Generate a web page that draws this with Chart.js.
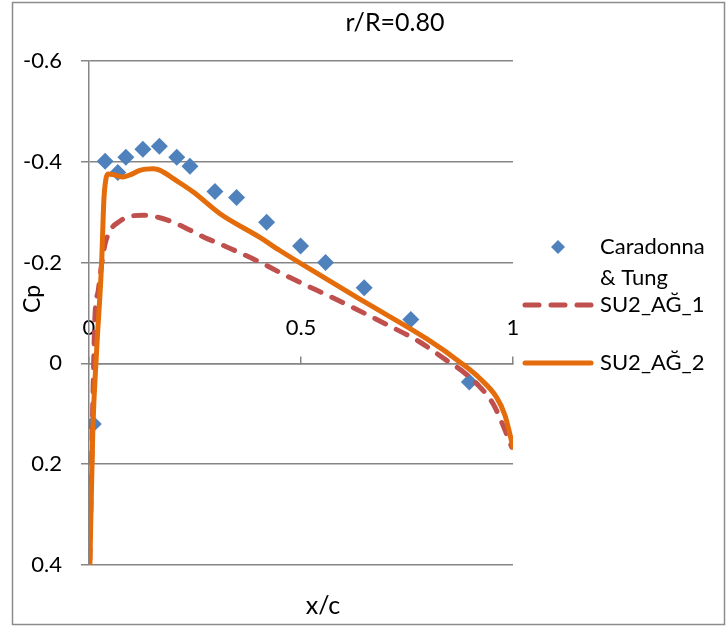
<!DOCTYPE html>
<html>
<head>
<meta charset="utf-8">
<title>r/R=0.80</title>
<script src="https://cdn.jsdelivr.net/npm/chart.js@4.4.1/dist/chart.umd.min.js"></script>
<style>
  html, body { margin: 0; padding: 0; background: #fff; }
</style>
</head>
<body>
<canvas id="cpChart" width="727" height="629"></canvas>
<script>
const seriesNames = ['Caradonna & Tung', 'SU2_AĞ_1', 'SU2_AĞ_2'];
const xTicks = [0, 0.5, 1];
const yTicks = [-0.6, -0.4, -0.2, 0, 0.2, 0.4];

// Caradonna & Tung measurements
const expX  = [0.010, 0.038, 0.068, 0.087, 0.127, 0.166, 0.207, 0.238, 0.297, 0.348, 0.419, 0.499, 0.558, 0.649, 0.759, 0.897];
const expCp = [0.120, -0.401, -0.379, -0.409, -0.425, -0.431, -0.409, -0.391, -0.341, -0.329, -0.280, -0.233, -0.200, -0.150, -0.087, 0.037];

// SU2 mesh 1
const ag1X  = [0.002, 0.010, 0.014, 0.022, 0.030, 0.038, 0.050, 0.069, 0.097, 0.128, 0.167, 0.207, 0.270, 0.325, 0.403, 0.458, 0.600, 0.700, 0.781, 0.840, 0.883, 0.920, 0.953, 0.975, 0.997];
const ag1Cp = [0.390, 0.040, -0.092, -0.145, -0.198, -0.237, -0.264, -0.280, -0.292, -0.294, -0.289, -0.277, -0.251, -0.231, -0.201, -0.177, -0.120, -0.078, -0.042, -0.008, 0.017, 0.045, 0.080, 0.120, 0.166];

// SU2 mesh 2
const ag2X  = [0.002, 0.009, 0.018, 0.030, 0.035, 0.040, 0.045, 0.060, 0.080, 0.100, 0.120, 0.152, 0.175, 0.200, 0.246, 0.309, 0.403, 0.450, 0.545, 0.650, 0.796, 0.879, 0.922, 0.961, 0.981, 1.000];
const ag2Cp = [0.400, 0.133, -0.026, -0.204, -0.323, -0.366, -0.376, -0.374, -0.370, -0.375, -0.383, -0.386, -0.380, -0.366, -0.340, -0.297, -0.250, -0.224, -0.175, -0.122, -0.049, 0.000, 0.030, 0.067, 0.103, 0.166];

const toPoints = (xs, ys) => xs.map((x, i) => ({ x: x, y: ys[i] }));

const FONT = 'Lato, "Liberation Sans", sans-serif';
const GRID = '#858585';
const BLUE = '#4F81BD';
const RED = '#C0504D';
const ORANGE = '#E46C0A';

// frame, axis captions and the legend on the right
const decorations = {
  id: 'decorations',
  beforeDraw(chart) {
    const ctx = chart.ctx;
    ctx.save();
    ctx.strokeStyle = '#8c8c8c';
    ctx.lineWidth = 1.5;
    ctx.strokeRect(12.5, 2.5, 712, 622);
    ctx.restore();
  },
  afterDraw(chart) {
    const ctx = chart.ctx;
    const a = chart.chartArea;
    ctx.save();
    ctx.fillStyle = '#000';
    ctx.textAlign = 'center';
    ctx.textBaseline = 'middle';
    ctx.font = '25px ' + FONT;
    ctx.fillText('r/R=0.80', 395, 23);
    ctx.fillText('x/c', 323, 606);
    ctx.save();
    ctx.translate(33, 299);
    ctx.rotate(-Math.PI / 2);
    ctx.font = '23px ' + FONT;
    ctx.fillText('Cp', 0, 0);
    ctx.restore();

    // legend
    const rowY = [247, 305, 363];
    const textX = a.right + 87;
    ctx.font = '22px ' + FONT;
    ctx.textAlign = 'left';
    chart.data.datasets.forEach((ds, i) => {
      const y = rowY[i];
      if (ds.showLine) {
        ctx.save();
        ctx.strokeStyle = ds.borderColor;
        ctx.lineWidth = ds.borderWidth;
        ctx.lineCap = 'round';
        if (ds.borderDash) ctx.setLineDash([14, 12]);
        ctx.beginPath();
        ctx.moveTo(a.right + 12, y);
        ctx.lineTo(a.right + 78, y);
        ctx.stroke();
        ctx.restore();
      } else {
        ctx.save();
        ctx.fillStyle = ds.backgroundColor;
        const cx = a.right + 45, r = 7;
        ctx.beginPath();
        ctx.moveTo(cx - r, y);
        ctx.lineTo(cx, y - r);
        ctx.lineTo(cx + r, y);
        ctx.lineTo(cx, y + r);
        ctx.closePath();
        ctx.fill();
        ctx.restore();
      }
      // simple word wrap
      const words = ds.label.split(' ');
      const lines = [];
      let cur = '';
      words.forEach(w => {
        const t = cur ? cur + ' ' + w : w;
        if (cur && ctx.measureText(t).width > 118) { lines.push(cur); cur = w; } else cur = t;
      });
      lines.push(cur);
      lines.forEach((ln, k) => ctx.fillText(ln, textX, y + k * 31));
    });
    ctx.restore();
  }
};

new Chart(document.getElementById('cpChart'), {
  type: 'scatter',
  data: {
    datasets: [
      {
        label: seriesNames[0],
        data: toPoints(expX, expCp),
        showLine: false,
        pointStyle: 'rectRot',
        pointRadius: 8.5,
        pointHoverRadius: 8.5,
        backgroundColor: BLUE,
        borderColor: BLUE,
        borderWidth: 0,
        order: 3
      },
      {
        label: seriesNames[1],
        data: toPoints(ag1X, ag1Cp),
        showLine: true,
        pointRadius: 0,
        borderColor: RED,
        borderWidth: 5,
        borderDash: [12, 12],
        borderCapStyle: 'round',
        borderJoinStyle: 'round',
        cubicInterpolationMode: 'monotone',
        order: 2
      },
      {
        label: seriesNames[2],
        data: toPoints(ag2X, ag2Cp),
        showLine: true,
        pointRadius: 0,
        borderColor: ORANGE,
        borderWidth: 5,
        borderCapStyle: 'round',
        borderJoinStyle: 'round',
        cubicInterpolationMode: 'monotone',
        order: 1
      }
    ]
  },
  options: {
    responsive: false,
    animation: false,
    layout: { padding: { left: 0, top: 61, right: 214, bottom: 64 } },
    plugins: {
      legend: { display: false },
      tooltip: { enabled: false }
    },
    scales: {
      x: {
        type: 'linear',
        min: 0,
        max: 1,
        position: { y: 0 },
        afterBuildTicks: s => { s.ticks = xTicks.map(v => ({ value: v })); },
        grid: { drawOnChartArea: false, drawTicks: true, tickLength: -8, color: GRID, lineWidth: 1.5 },
        border: { display: true, color: GRID, width: 1.5 },
        ticks: {
          padding: -41,
          color: '#000',
          autoSkip: false,
          maxRotation: 0,
          font: { family: FONT, size: 22 },
          callback: v => String(v)
        }
      },
      y: {
        type: 'linear',
        reverse: true,
        min: -0.6,
        max: 0.4,
        afterBuildTicks: s => { s.ticks = yTicks.map(v => ({ value: v })); },
        afterFit: s => { s.width = 89; },
        grid: { color: GRID, lineWidth: 1.5, tickLength: 8 },
        border: { display: true, color: GRID, width: 1.5 },
        ticks: {
          padding: 19,
          color: '#000',
          font: { family: FONT, size: 22 },
          callback: v => String(v)
        }
      }
    }
  },
  plugins: [decorations]
});
</script>
</body>
</html>
